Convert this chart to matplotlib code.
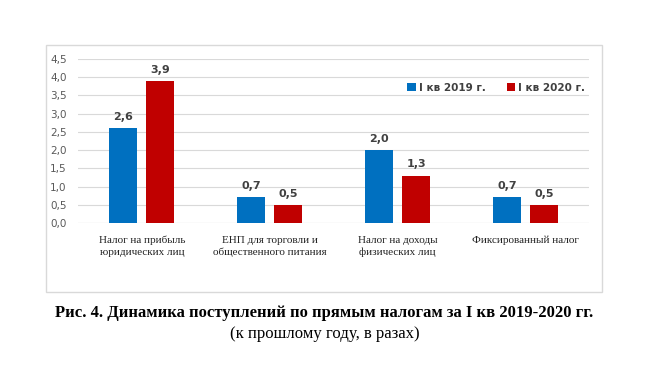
import numpy as np
from matplotlib import pyplot as plt
from matplotlib.patches import Rectangle

categories = ['Налог на прибыль\nюридических лиц', 'ЕНП для торговли и\nобщественного питания',
              'Налог на доходы\nфизических лиц', 'Фиксированный налог']
q1_2019 = [2.6, 0.7, 2.0, 0.7]
q1_2020 = [3.9, 0.5, 1.3, 0.5]
labels_2019 = ['2,6', '0,7', '2,0', '0,7']
labels_2020 = ['3,9', '0,5', '1,3', '0,5']
yticks = [0, 0.5, 1.0, 1.5, 2.0, 2.5, 3.0, 3.5, 4.0, 4.5]
ytick_labels = ['0,0', '0,5', '1,0', '1,5', '2,0', '2,5', '3,0', '3,5', '4,0', '4,5']

fig = plt.figure(figsize=(6.49, 3.72), dpi=100)
fig.patches.append(Rectangle((0.0709, 0.215), 0.8567, 0.664, transform=fig.transFigure,
                             fill=False, edgecolor='#D9D9D9', linewidth=1))

ax = fig.add_axes([0.120, 0.4005, 0.788, 0.441])
x = np.arange(len(categories))
w = 0.22
b1 = ax.bar(x - 0.145, q1_2019, w, color='#0070C0', label='I кв 2019 г.', zorder=3)
b2 = ax.bar(x + 0.145, q1_2020, w, color='#C00000', label='I кв 2020 г.', zorder=3)

# подписи над столбцами
for bars, labs in [(b1, labels_2019), (b2, labels_2020)]:
    for r, t in zip(bars, labs):
        ax.text(r.get_x() + r.get_width() / 2, r.get_height() + 0.17, t, ha='center', va='bottom',
                fontsize=8, fontweight='bold', color='#404040')

ax.set_xlim(-0.5, 3.5)
ax.set_ylim(0, 4.5)
ax.set_yticks(yticks)
ax.set_yticklabels(ytick_labels, fontsize=7.5, color='#595959')
ax.set_xticks(x)
ax.set_xticklabels(categories, fontsize=8, family='Liberation Serif', color='#222222', linespacing=1.45)
ax.tick_params(length=0, pad=9)
ax.tick_params(axis='y', pad=8)
ax.grid(axis='y', color='#D9D9D9', linewidth=0.8, zorder=0)
for s in ax.spines.values():
    s.set_visible(False)
ax.axhline(0, color='#D9D9D9', linewidth=0.8, zorder=1)

ax.legend(loc='upper right', bbox_to_anchor=(1.01, 0.91), ncol=2, frameon=False,
          prop={'weight': 'bold', 'size': 7.5}, handlelength=0.8, handleheight=0.8,
          handletextpad=0.3, columnspacing=2.0, labelcolor='#404040')

fig.text(0.5, 0.158, 'Рис. 4. Динамика поступлений по прямым налогам за I кв 2019-2020 гг.',
         ha='center', va='center', fontsize=12, fontweight='bold', family='Liberation Serif')
fig.text(0.5, 0.103, '(к прошлому году, в разах)', ha='center', va='center', fontsize=12,
         family='Liberation Serif')

plt.savefig('out.png', dpi=100)
